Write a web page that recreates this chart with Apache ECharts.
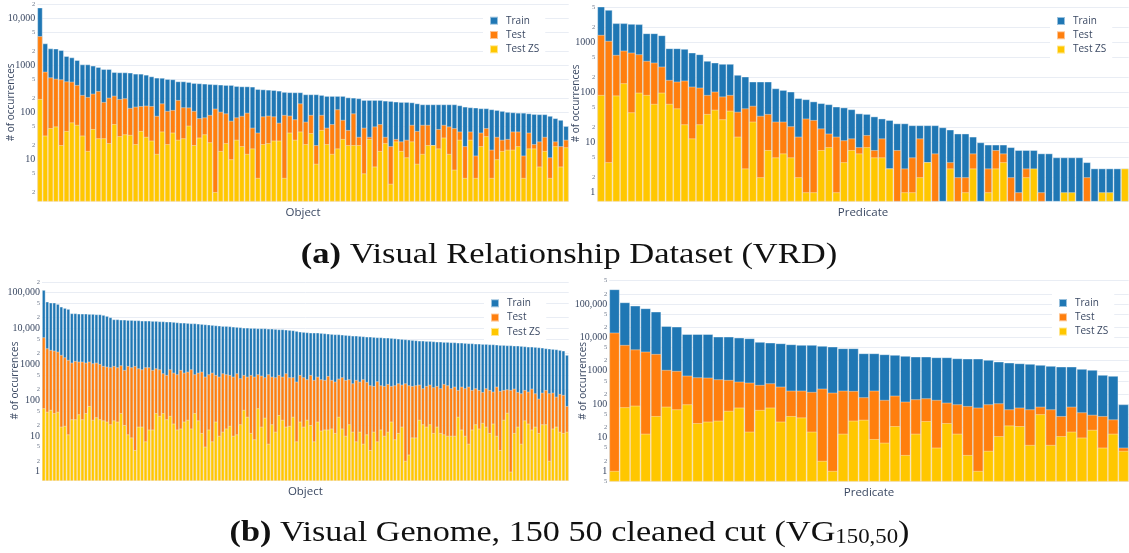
<!DOCTYPE html>
<html>
<head>
<meta charset="utf-8">
<script src="https://cdn.jsdelivr.net/npm/echarts@6/dist/echarts.min.js"></script>
<style>
  html, body { margin: 0; padding: 0; background: #ffffff; }
  #chart { width: 1129px; height: 553px; }
</style>
</head>
<body>
<div id="chart"></div>
<script>
// ---- VRD: object classes (100) ----
const vrdObjTrain = [17100, 2940, 2300, 2280, 2120, 1580, 1480, 1300, 1050, 1050, 984, 922, 836, 836, 724, 710, 710, 698, 665, 664,
  632, 583, 547, 543, 512, 505, 457, 457, 442, 421, 415, 408, 401, 395, 389, 382, 382, 363, 357, 357,
  352, 313, 308, 303, 298, 289, 272, 268, 267, 267, 242, 242, 242, 234, 223, 223, 223, 223, 208, 205,
  199, 183, 183, 183, 183, 177, 174, 169, 166, 166, 163, 155, 148, 148, 148, 148, 148, 148, 148, 141,
  132, 128, 126, 122, 122, 116, 112, 107, 102, 100, 98, 98, 95, 92, 91, 91, 84, 75, 69, 51];
const vrdObjTest = [4200, 733, 556, 520, 504, 457, 449, 382, 234, 212, 250, 284, 166, 205, 226, 192, 199, 124, 132, 136,
  139, 136, 84, 155, 107, 112, 183, 128, 127, 107, 75, 78, 88, 120, 103, 95, 66, 78, 84, 98,
  47, 37, 82, 85, 82, 60, 88, 85, 71, 155, 63, 88, 20, 88, 47, 56, 116, 69, 42, 95,
  30, 47, 30, 50, 56, 30, 19, 27, 24, 26, 54, 40, 54, 54, 20, 44, 54, 50, 46, 39,
  19, 39, 12, 37, 46, 16, 30, 26, 27, 39, 39, 12, 37, 21, 24, 30, 11, 24, 19, 26];
const vrdObjZS = [192, 32, 46, 50, 20, 40, 61, 54, 32, 15, 44, 28, 28, 22, 56, 31, 34, 33, 21, 40,
  30, 25, 13, 39, 21, 37, 26, 28, 52, 20, 29, 34, 23, 2, 15, 22, 10, 26, 19, 13,
  17, 4, 21, 22, 25, 25, 4, 37, 26, 39, 21, 36, 8, 42, 21, 13, 17, 27, 20, 20,
  20, 5, 27, 7, 15, 22, 3, 24, 15, 11, 24, 8, 13, 20, 20, 17, 29, 13, 6, 26,
  4, 26, 4, 19, 31, 4, 10, 15, 16, 16, 19, 4, 17, 17, 7, 15, 4, 19, 7, 18];

// ---- VRD: predicates (70) ----
const vrdPredTrain = [5260, 4510, 2440, 2440, 2360, 2330, 1535, 1535, 1400, 769, 769, 745, 629, 583, 429, 397, 373, 373, 225, 208,
  165, 165, 165, 121, 112, 104, 77, 73, 66, 61, 58, 52, 50, 46, 38, 37, 33, 30, 28, 24,
  24, 22, 22, 22, 22, 20, 18, 15, 15, 13, 10, 9, 9, 9, 8, 7, 7, 7, 6, 6,
  5, 5, 5, 5, 4, 3, 3, 3, 3, 3];
const vrdPredTest = [1422, 1080, 565, 690, 629, 583, 429, 397, 330, 178, 165, 173, 131, 125, 89, 104, 83, 89, 41, 48,
  54, 34, 37, 26, 26, 21, 13, 30, 28, 19, 15, 13, 11, 12, 8, 14, 7, 12, 3, 7,
  3, 5, 12, 4, 6, null, 4, 2, 2, 6, null, 3, 7, 6, 2, 1, 3, null, 1, null,
  null, null, null, null, 2, null, null, null, null, null];
const vrdPredZS = [89, 4, 87, 153, 40, 99, 89, 59, 99, 59, 48, 23, 12, 23, 37, 45, 29, 43, 13, 3,
  26, 2, 7, 5, 6, 5, 2, 1, 1, 7, 8, 1, 4, 7, 6, 8, 5, 5, 3, null,
  1, 1, 2, 4, null, null, 3, null, 1, 3, null, 1, 3, 4, null, null, 2, 3, null, null,
  null, 1, 1, null, null, null, 1, 1, null, 3];

// ---- Visual Genome 150/50: object classes (150) ----
const vgObjTrain = [119000, 56100, 52600, 52600, 48200, 40600, 37300, 35000, 26500, 26500, 25900, 25900, 25900, 25400, 25400,
  24800, 24800, 23800, 22300, 20500, 18000, 18000, 17600, 17600, 17200, 17200, 16900, 16900, 16500, 16500,
  16500, 16200, 16200, 15800, 15800, 15500, 15500, 15200, 14800, 14500, 14500, 14200, 13900, 13900, 13600,
  13300, 13000, 12800, 12500, 12200, 12000, 11700, 11700, 11500, 11200, 11000, 10800, 10500, 10500, 10300,
  10300, 10100, 10100, 10100, 9870, 9870, 9660, 9460, 9460, 9250, 9060, 8870, 8500, 8140, 7970,
  7800, 7640, 7640, 7640, 7470, 7310, 7160, 7000, 6860, 6860, 6710, 6560, 6430, 6290, 6290,
  6160, 6030, 5900, 5900, 5780, 5650, 5650, 5530, 5530, 5420, 5300, 5190, 5080, 4970, 4870,
  4760, 4660, 4560, 4560, 4460, 4460, 4370, 4280, 4280, 4190, 4190, 4100, 4100, 4010, 4010,
  3930, 3850, 3850, 3760, 3760, 3680, 3680, 3600, 3600, 3530, 3450, 3450, 3380, 3380, 3310,
  3310, 3240, 3170, 3100, 3100, 3040, 2970, 2910, 2790, 2730, 2670, 2610, 2500, 2400, 1820];
const vgObjTest = [5650, 2790, 2500, 2400, 2250, 1820, 1560, 1320, 1109, 1233, 1183, 1183, 1109, 1183, 1062,
  1109, 1017, 895, 857, 821, 895, 821, 933, 691, 895, 821, 895, 769, 721, 821,
  821, 691, 769, 721, 558, 501, 721, 582, 524, 691, 582, 621, 721, 524, 582,
  621, 450, 524, 582, 501, 450, 558, 524, 501, 450, 558, 405, 501, 450, 501,
  450, 524, 481, 432, 524, 450, 432, 501, 450, 558, 432, 432, 327, 501, 432,
  380, 501, 364, 450, 380, 364, 470, 364, 327, 396, 432, 364, 380, 293, 364,
  327, 380, 320, 258, 247, 334, 258, 247, 281, 247, 258, 293, 269, 293, 258,
  247, 258, 269, 213, 247, 269, 227, 247, 213, 281, 258, 213, 237, 191, 237,
  213, 237, 191, 213, 191, 168, 213, 191, 172, 237, 179, 191, 199, 191, 208,
  168, 154, 191, 172, 208, 154, 109, 161, 191, 154, 161, 124, 148, 139, 68];
const vgObjZS = [59, 47, 53, 43, 47, 18, 19, 11, 29, 29, 40, 29, 43, 68, 28,
  33, 29, 27, 25, 21, 27, 25, 43, 20, 11, 9, 4, 18, 18, 7,
  15, 15, 43, 36, 43, 29, 36, 22, 15, 16, 25, 28, 16, 43, 27,
  12, 5, 15, 7, 25, 10, 13, 16, 19, 10, 11, 21, 53, 34, 12,
  8, 59, 18, 32, 6, 21, 13, 38, 28, 18, 19, 34, 7, 25, 18,
  28, 20, 7, 25, 14, 15, 15, 16, 12, 34, 16, 10, 21, 13, 7,
  13, 6, 11, 4, 13, 7, 15, 10, 13, 25, 8, 12, 18, 2, 3,
  9, 9, 28, 21, 18, 21, 12, 18, 12, 11, 10, 10, 10, 34, 15,
  10, 6, 15, 21, 16, 23, 18, 12, 22, 10, 4, 28, 44, 1, 12,
  18, 6, 27, 22, 15, 18, 12, 21, 21, 2, 16, 18, 13, 12, 13];

// ---- Visual Genome 150/50: predicates (50) ----
const vgPredTrain = [275000, 112000, 89100, 74200, 58900, 21900, 20900, 12500, 12500, 12500,
  10500, 10500, 9820, 9370, 7280, 6950, 6640, 6200, 5920, 5920,
  5530, 5280, 4710, 4710, 3330, 3330, 3110, 2970, 2770, 2650,
  2650, 2530, 2530, 2360, 2310, 2310, 2110, 1880, 1750, 1670,
  1600, 1490, 1390, 1330, 1330, 1130, 1060, 749, 699, 99];
const vgPredTest = [13900, 5920, 4350, 3740, 3180, 1060, 986, 715, 637, 623,
  556, 531, 473, 441, 376, 422, 335, 254, 254, 232,
  292, 221, 254, 248, 161, 254, 134, 180, 119, 140,
  150, 134, 111, 99, 88, 79, 99, 106, 70, 79,
  70, 84, 70, 44, 84, 57, 48, 44, 35, 5];
const vgPredZS = [1, 81, 90, 13, 44, 84, 70, 99, 27, 30,
  32, 63, 79, 15, 67, 79, 30, 44, 40, 15,
  2, 1, 13, 32, 34, 9, 7, 22, 3, 13,
  31, 5, 27, 13, 3, 1, 4, 11, 23, 22,
  6, 50, 6, 11, 15, 10, 17, 5, 13, 4];

// ---- shared scale / legend settings ----
const seriesNames = ['Train', 'Test', 'Test ZS'];
const seriesColors = ['#1f77b4', '#ff7f0e', '#ffc700'];
const logTicks = [0.5, 1, 2, 5, 10, 20, 50, 100, 200, 500, 1000, 2000, 5000,
  10000, 20000, 50000, 100000, 200000, 500000];

const inkColor = '#3b4963';

const panels = [
  { xName: 'Object', data: [vrdObjTrain, vrdObjTest, vrdObjZS],
    grid: { left: 37.3, top: 3, width: 531.4, height: 198.7 }, min: 1.25, max: 21400,
    yGap: 21, legend: { left: 483, top: 10.7 } },
  { xName: 'Predicate', data: [vrdPredTrain, vrdPredTest, vrdPredZS],
    grid: { left: 597.3, top: 5, width: 531.4, height: 196.7 }, min: 0.648, max: 5670,
    yGap: 16.5, legend: { left: 1050, top: 11 } },
  { xName: 'Object', data: [vgObjTrain, vgObjTest, vgObjZS],
    grid: { left: 42, top: 280, width: 526.7, height: 201 }, min: 0.55, max: 226000,
    yGap: 22, legend: { left: 484, top: 293.3 } },
  { xName: 'Predicate', data: [vgPredTrain, vgPredTest, vgPredZS],
    grid: { left: 609.3, top: 280, width: 519.4, height: 201.7 }, min: 0.478, max: 523000,
    yGap: 21.5, legend: { left: 1052, top: 293 } }
];

function tickLabel(v) {
  const e = Math.log10(v);
  if (Math.abs(e - Math.round(e)) < 1e-9) {
    const s = v >= 10000 ? v.toLocaleString('en-US') : String(v);
    return '{d|' + s + '}';
  }
  return '{m|' + String(v).replace(/[0.]/g, '')[0] + '}';
}

const grids = [], xAxes = [], yAxes = [], series = [], legends = [];

panels.forEach((p, i) => {
  grids.push(Object.assign({ containLabel: false, outerBoundsMode: 'none' }, p.grid));
  const cats = p.data[0].map((_, k) => String(k + 1));
  xAxes.push({
    type: 'category', gridIndex: i, data: cats,
    axisLine: { show: false }, axisTick: { show: false }, axisLabel: { show: false },
    splitLine: { show: false },
    name: p.xName, nameLocation: 'middle', nameGap: 5, nameMoveOverlap: false,
    nameTextStyle: { fontFamily: 'Open Sans', fontSize: 11.5, color: inkColor, verticalAlign: 'top' }
  });
  yAxes.push({
    type: 'log', logBase: 10, gridIndex: i, min: p.min, max: p.max, startValue: p.min,
    axisLine: { show: false },
    axisTick: { show: false, customValues: logTicks },
    splitLine: { show: true, lineStyle: { color: '#e9edf4', width: 1 } },
    axisLabel: {
      customValues: logTicks, margin: 2, formatter: tickLabel,
      rich: {
        d: { fontFamily: 'Liberation Serif', fontSize: 10, color: inkColor },
        m: { fontFamily: 'Liberation Serif', fontSize: 6.5, color: '#6b7689' }
      }
    },
    name: '# of occurrences', nameLocation: 'middle', nameGap: p.yGap, nameMoveOverlap: false,
    nameTextStyle: { fontFamily: 'Open Sans', fontSize: 10, color: inkColor }
  });
  seriesNames.forEach((nm, s) => {
    series.push({
      type: 'bar', name: nm, xAxisIndex: i, yAxisIndex: i,
      data: p.data[s],
      barGap: '-100%', barCategoryGap: '0%',
      itemStyle: { color: seriesColors[s], borderColor: 'rgba(255,255,255,0.55)', borderWidth: 0.7 },
      emphasis: { disabled: true },
      animation: false
    });
  });
  legends.push({
    show: true, orient: 'vertical', left: p.legend.left, top: p.legend.top,
    data: seriesNames, icon: 'rect', itemWidth: 8, itemHeight: 8, itemGap: 2.3,
    backgroundColor: '#ffffff', padding: [4, 6, 4, 6],
    textStyle: { fontFamily: 'Open Sans', fontSize: 10, color: inkColor, lineHeight: 12, padding: [0, 0, 0, 3] }
  });
});

const chart = echarts.init(document.getElementById('chart'), null, { renderer: 'canvas' });
chart.setOption({
  animation: false,
  backgroundColor: '#ffffff',
  textStyle: { fontFamily: 'Open Sans' },
  grid: grids, xAxis: xAxes, yAxis: yAxes, series: series, legend: legends,
  tooltip: { show: false },
  graphic: [
    { type: 'text', x: 569, y: 255, scaleX: 1.15,
      style: { text: '{b|(a)} Visual Relationship Dataset (VRD)', align: 'center', verticalAlign: 'middle',
        fill: '#111', font: '30px "Liberation Serif"',
        rich: { b: { fontWeight: 'bold', fontSize: 30, fontFamily: 'Liberation Serif' } } } },
    { type: 'text', x: 569.5, y: 533, scaleX: 1.14,
      style: { text: '{b|(b)} Visual Genome, 150 50 cleaned cut (VG{s|150,50})', align: 'center', verticalAlign: 'middle',
        fill: '#111', font: '30px "Liberation Serif"',
        rich: {
          b: { fontWeight: 'bold', fontSize: 30, fontFamily: 'Liberation Serif' },
          s: { fontSize: 20, fontFamily: 'Liberation Serif', verticalAlign: 'bottom', padding: [6, 0, 0, 0] }
        } } }
  ]
});
</script>
</body>
</html>
